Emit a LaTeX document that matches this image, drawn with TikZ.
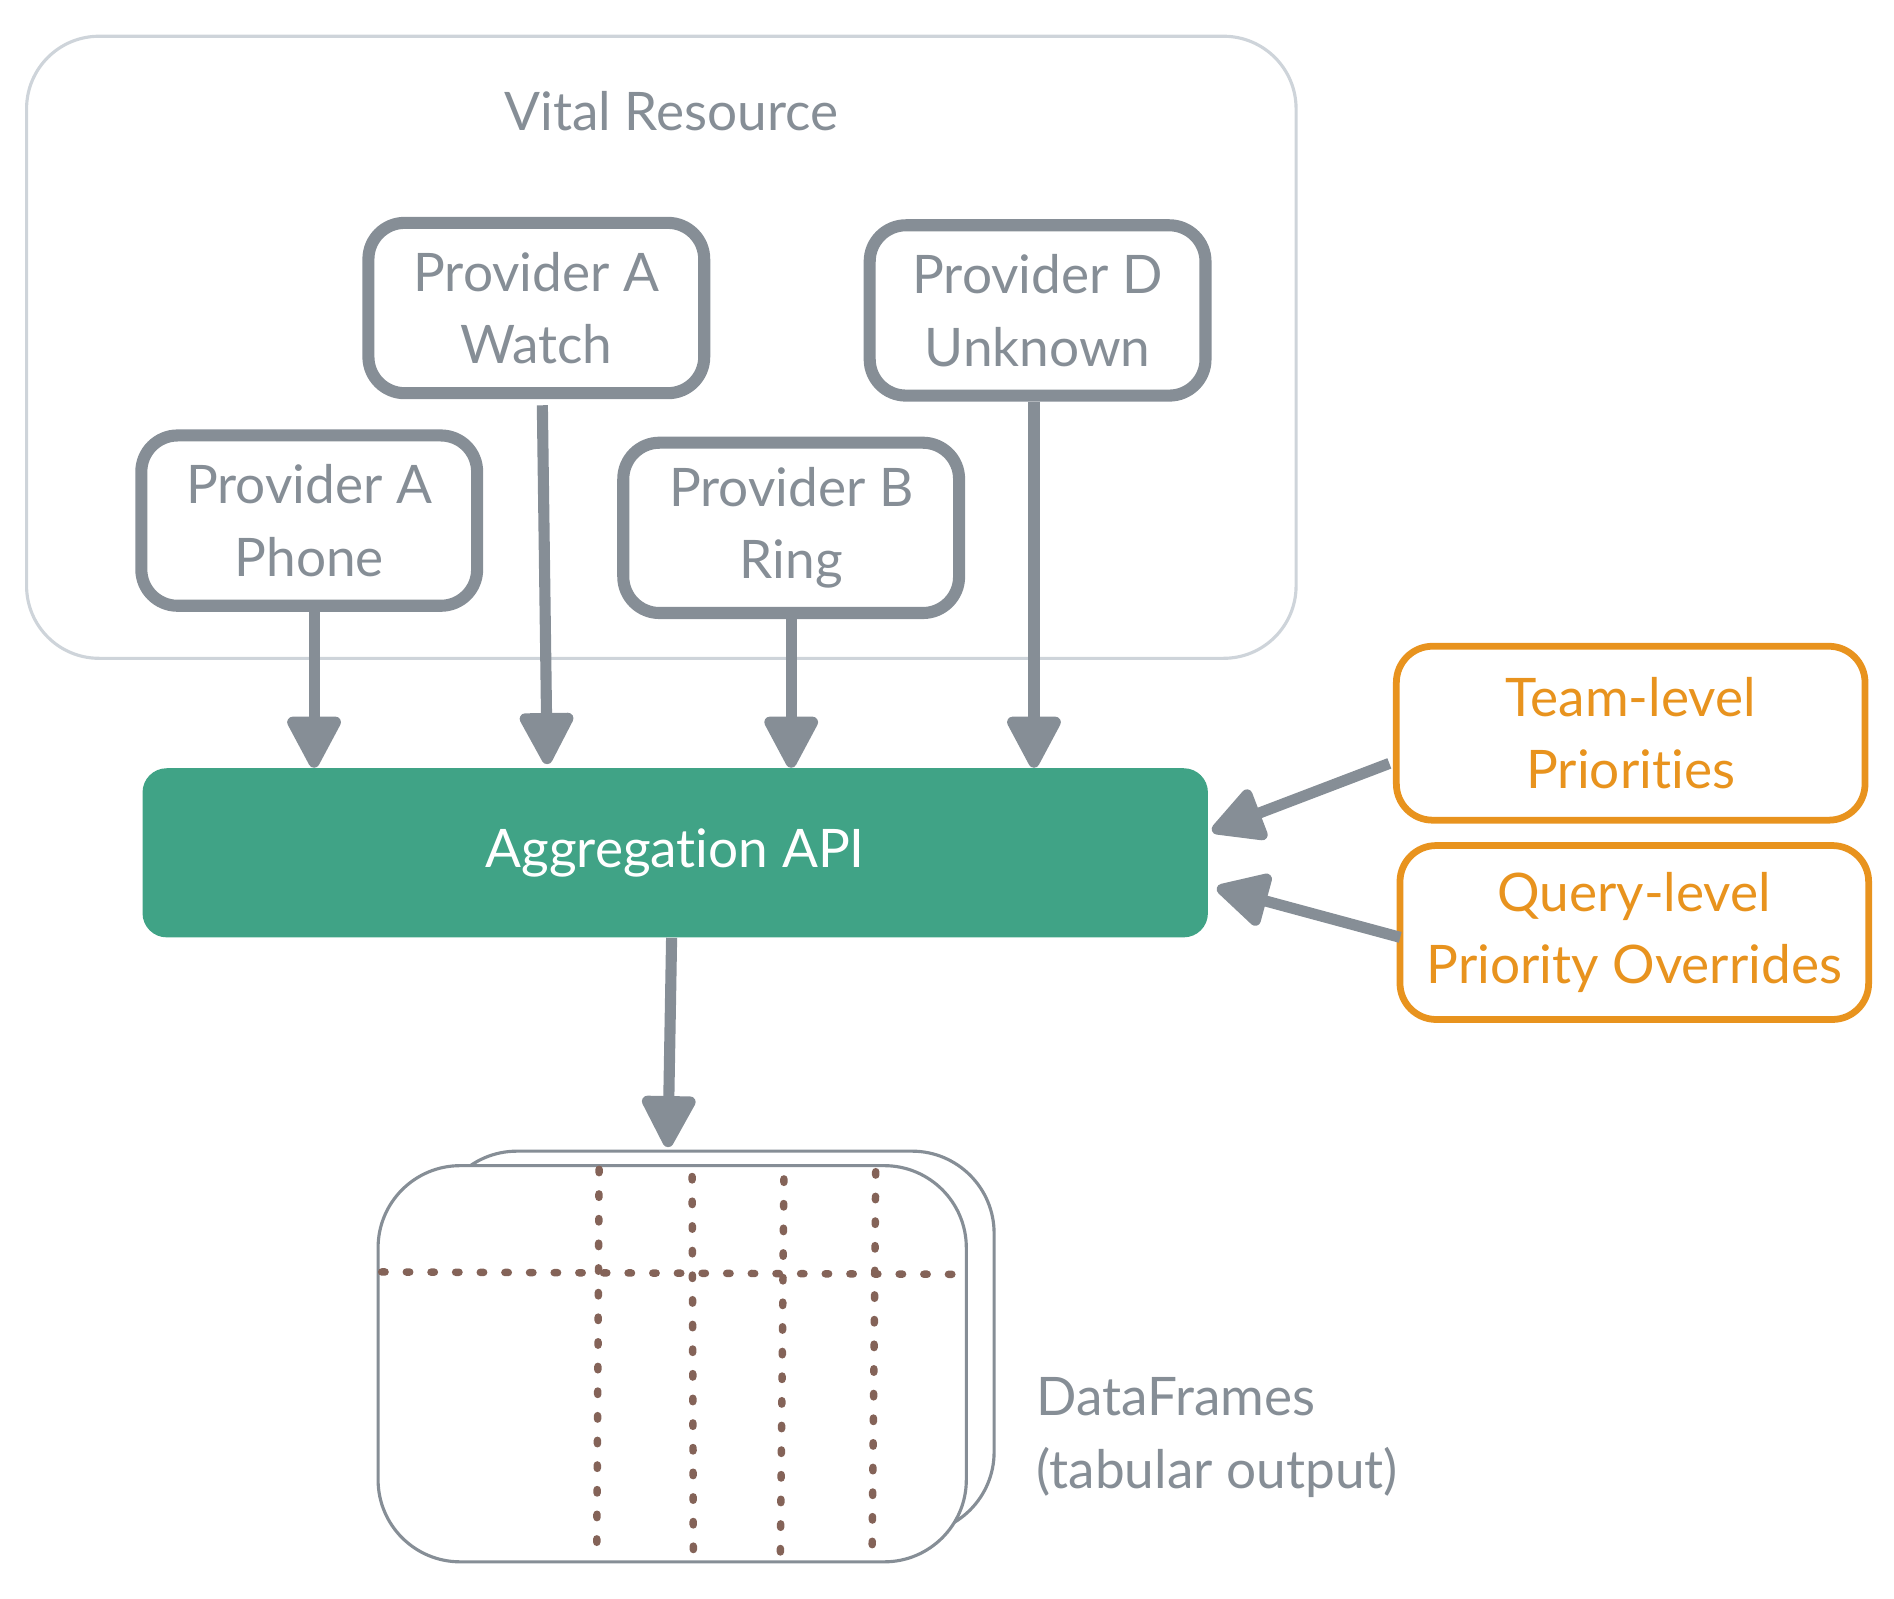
\documentclass[tikz,border=0pt]{standalone}
\usepackage{fontspec}
\setmainfont{Lato}[Ligatures=NoCommon]
\usetikzlibrary{arrows.meta,calc}
\definecolor{gr}{HTML}{868E96}
\definecolor{lgr}{HTML}{CED4DA}
\definecolor{grn}{HTML}{40A386}
\definecolor{org}{HTML}{E8931E}
\definecolor{brn}{HTML}{846358}
\begin{document}
\begin{tikzpicture}[x=0.5pt,y=-0.5pt,
  txt/.style={font=\fontsize{22}{30}\selectfont, align=center},
  prov/.style={txt, draw=gr, text=gr, line width=5pt, line join=round, rounded corners=15pt,
    fill=white, inner sep=0pt, minimum width=139pt, minimum height=70.5pt},
  aggbox/.style={txt, fill=grn, text=white, rounded corners=10pt, inner sep=0pt,
    minimum width=441pt, minimum height=70pt},
  obox/.style={txt, draw=org, text=org, line width=2.8pt, rounded corners=15pt,
    fill=white, inner sep=0pt, minimum width=194pt, minimum height=72pt},
  dfbox/.style={draw=gr, line width=1.3pt, rounded corners=34pt, fill=white, inner sep=0pt},
  arr/.style={draw=gr, line width=4.6pt, -{Triangle[width=24pt,length=24pt,round]}},
  dots/.style={draw=brn, line width=3.1pt, line cap=round, dash pattern=on 1.4pt off 8.8pt},
]
\useasboundingbox (0,0) rectangle (1568,1323);

% container
\draw[lgr, line width=1.3pt, rounded corners=30pt] (22,30) rectangle (1073,545);
\node[txt, text=gr] (title) at (556,92) {Vital Resource};

% providers
\node[prov] (watch) at (444,255) {Provider A\\Watch};
\node[prov] (unk) at (859,257) {Provider D\\Unknown};
\node[prov] (phone) at (256,431) {Provider A\\Phone};
\node[prov] (ring) at (655,437) {Provider B\\Ring};

% aggregation
\node[aggbox] (agg) at (559,706) {Aggregation API};

% priorities
\node[obox] (team) at (1350,607) {Team-level\\Priorities};
\node[obox] (query) at (1353,772) {Query-level\\Priority Overrides};

% dataframes
\node[dfbox, minimum width=231.5pt, minimum height=158.5pt] (dfb) at (591.5,1111.5) {};
\node[dfbox, minimum width=243.5pt, minimum height=164pt] (dff) at (556.5,1129) {};
\draw[dots] (316,1053) -- (795,1055);
\draw[dots] (496,968) -- (494,1288);
\draw[dots] (573,974) -- (574,1290);
\draw[dots] (649,976) -- (646,1292);
\draw[dots] (725,970) -- (722,1288);
\node[txt, align=left, text=gr, anchor=west] (dft) at (851,1190) {DataFrames\\(tabular output)};

% arrows
\draw[arr] ($(phone.south)+(4,0)$) -- ($(phone.south |- agg.north)+(4,0)$);
\draw[arr] ($(watch.south)+(5,5)$) -- ($(watch.south |- agg.north)+(9,-3)$);
\draw[arr] (ring.south) -- (ring.south |- agg.north);
\draw[arr] ($(unk.south)+(-3,0)$) -- ($(unk.south |- agg.north)+(-3,0)$);
\draw[arr] ($(team.west)+(-3,25)$) -- ($(agg.east)+(3,-18)$);
\draw[arr] ($(query.west)+(3,4)$) -- ($(agg.east)+(7,29)$);
\draw[arr] ($(agg.south)+(-3,0)$) -- ($(agg.south |- dfb.north)+(-6,-2)$);
\end{tikzpicture}
\end{document}
